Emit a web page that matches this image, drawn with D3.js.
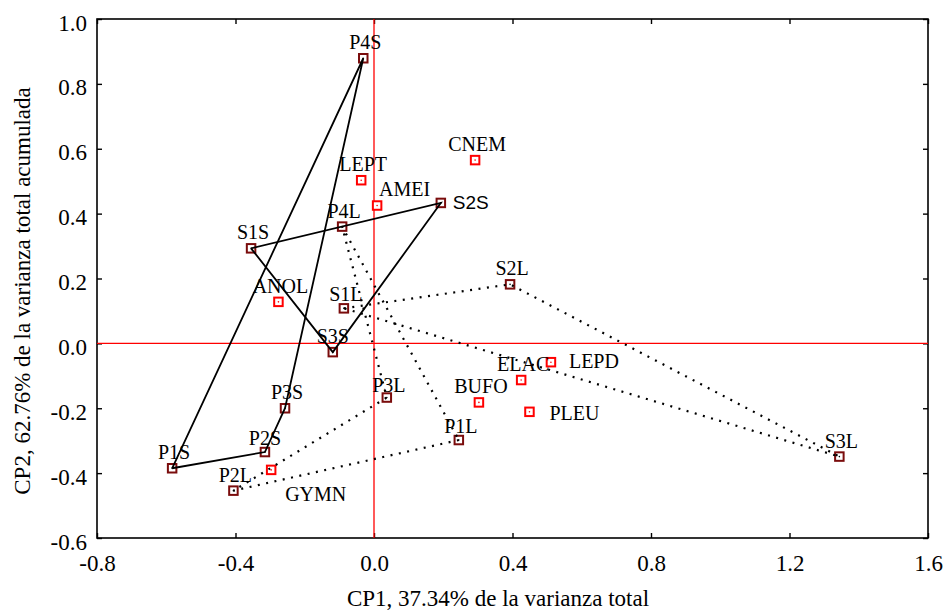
<!DOCTYPE html>
<html>
<head>
<meta charset="utf-8">
<script src="https://cdn.jsdelivr.net/npm/d3@7"></script>
<style>
  body { margin: 0; background: #fff; }
  svg text { font-family: "Liberation Serif", "Times New Roman", serif; fill: #000; }
</style>
</head>
<body>
<script>
// sites (season S / L), CP1 and CP2 scores
var siteNames = ["P1S", "P2S", "P3S", "P4S", "S1S", "S2S", "S3S",
                 "P1L", "P2L", "P3L", "P4L", "S1L", "S2L", "S3L"];
var siteX = [-0.583, -0.315, -0.257, -0.031, -0.355, 0.193, -0.119,
              0.245, -0.406, 0.037, -0.092, -0.087, 0.393, 1.344];
var siteY = [-0.385, -0.335, -0.200, 0.879, 0.293, 0.433, -0.027,
             -0.298, -0.454, -0.167, 0.360, 0.108, 0.182, -0.349];

// species
var sppNames = ["CNEM", "LEPT", "AMEI", "ANOL", "GYMN", "ELAC", "LEPD", "BUFO", "PLEU"];
var sppX = [0.292, -0.037, 0.009, -0.276, -0.297, 0.425, 0.511, 0.303, 0.449];
var sppY = [0.565, 0.503, 0.425, 0.128, -0.390, -0.113, -0.058, -0.182, -0.211];

// polygons joining the sites
var solidGroups = [["P1S", "P2S", "P3S", "P4S", "P1S"], ["S1S", "S2S", "S3S", "S1S"]];
var dottedGroups = [["P1L", "P2L", "P3L", "P4L", "P1L"], ["S1L", "S2L", "S3L", "S1L"]];

var xTicks = [-0.8, -0.4, 0.0, 0.4, 0.8, 1.2, 1.6];
var yTicks = [-0.6, -0.4, -0.2, 0.0, 0.2, 0.4, 0.6, 0.8, 1.0];

var xTitle = "CP1, 37.34% de la varianza total";
var yTitle = "CP2, 62.76% de la varianza total acumulada";

// label placement that differs from "centred above the point"
var labelPlace = {
  AMEI: {anchor: "start", dx: 2, dy: -10},
  S2S: {anchor: "start", dx: 12, dy: 6, sans: true},
  GYMN: {anchor: "start", dx: 14, dy: 31},
  LEPD: {anchor: "start", dx: 18, dy: 6},
  PLEU: {anchor: "start", dx: 20, dy: 8},
  S1L: {dy: -7}, P3L: {dy: -6}, P1L: {dy: -7}, P2S: {dx: 0, dy: -7},
  S3S: {dx: 0}
};

var W = 945, H = 612;
var padL = 97, padR = 928, padT = 19, padB = 538;

var x = d3.scaleLinear().domain([-0.8, 1.6]).range([padL, padR]);
var y = d3.scaleLinear().domain([-0.6, 1.0]).range([padB, padT]);

var svg = d3.select("body").append("svg").attr("width", W).attr("height", H);

var fmt = function(d) { return d.toFixed(1); };

// axes, ticks pointing inwards
var gx = svg.append("g").attr("transform", "translate(0," + padB + ")")
  .call(d3.axisBottom(x).tickValues(xTicks).tickFormat(fmt).tickSize(-5).tickPadding(17));
var gy = svg.append("g").attr("transform", "translate(" + padL + ",0)")
  .call(d3.axisLeft(y).tickValues(yTicks).tickFormat(fmt).tickSize(-5).tickPadding(10));
svg.append("g").attr("transform", "translate(0," + padT + ")")
  .call(d3.axisTop(x).tickValues(xTicks).tickFormat("").tickSize(-5));
svg.append("g").attr("transform", "translate(" + padR + ",0)")
  .call(d3.axisRight(y).tickValues(yTicks).tickFormat("").tickSize(-5));

svg.selectAll(".domain").remove();
svg.selectAll(".tick line").attr("stroke", "#000").attr("stroke-width", 1.4);
svg.selectAll(".tick text").style("font-family", '"Liberation Serif", serif').attr("font-size", 23);
gy.selectAll(".tick text").attr("dy", "0.48em");

svg.append("rect")
  .attr("x", padL).attr("y", padT)
  .attr("width", padR - padL).attr("height", padB - padT)
  .attr("fill", "none").attr("stroke", "#000").attr("stroke-width", 1.6);

// red zero lines
svg.append("line")
  .attr("x1", x(0)).attr("x2", x(0)).attr("y1", padT).attr("y2", padB)
  .attr("stroke", "#ff0000").attr("stroke-width", 1.3);
svg.append("line")
  .attr("x1", padL).attr("x2", padR).attr("y1", y(0)).attr("y2", y(0))
  .attr("stroke", "#ff0000").attr("stroke-width", 1.3);

// titles
svg.append("text").attr("x", 498).attr("y", 606)
  .attr("text-anchor", "middle").attr("font-size", 23).text(xTitle);
svg.append("text").attr("transform", "translate(30,291) rotate(-90)")
  .attr("text-anchor", "middle").attr("font-size", 23).text(yTitle);

var sites = siteNames.map(function(n, i) { return {name: n, x: siteX[i], y: siteY[i], kind: "site"}; });
var spp = sppNames.map(function(n, i) { return {name: n, x: sppX[i], y: sppY[i], kind: "spp"}; });
var byName = {};
sites.forEach(function(d) { byName[d.name] = d; });

var line = d3.line().x(function(d) { return x(d.x); }).y(function(d) { return y(d.y); });

// markers
var all = sites.concat(spp);
var S = 8.5;
svg.selectAll("rect.mk").data(all).enter().append("rect")
  .attr("class", "mk")
  .attr("x", function(d) { return x(d.x) - S / 2; })
  .attr("y", function(d) { return y(d.y) - S / 2; })
  .attr("width", S).attr("height", S)
  .attr("fill", "#fff")
  .attr("stroke", function(d) { return d.kind == "site" ? "#7a0c0c" : "#ff0000"; })
  .attr("stroke-width", 2);
svg.selectAll("circle.dot").data(all).enter().append("circle")
  .attr("class", "dot")
  .attr("cx", function(d) { return x(d.x); })
  .attr("cy", function(d) { return y(d.y); })
  .attr("r", 0.8)
  .attr("fill", function(d) { return d.kind == "site" ? "#000" : "#ff0000"; });

// connecting lines
solidGroups.forEach(function(g) {
  svg.append("path").datum(g.map(function(n) { return byName[n]; }))
    .attr("d", line).attr("fill", "none")
    .attr("stroke", "#000").attr("stroke-width", 1.8);
});
dottedGroups.forEach(function(g) {
  svg.append("path").datum(g.map(function(n) { return byName[n]; }))
    .attr("d", line).attr("fill", "none")
    .attr("stroke", "#000").attr("stroke-width", 2.2)
    .attr("stroke-dasharray", "2,6.5");
});

// labels
svg.selectAll("text.lab").data(all).enter().append("text")
  .attr("class", "lab")
  .each(function(d) {
    var p = labelPlace[d.name] || {};
    var dx = p.dx != null ? p.dx : 2;
    var dy = p.dy != null ? p.dy : -9;
    d3.select(this)
      .attr("x", x(d.x) + dx)
      .attr("y", y(d.y) + dy)
      .attr("text-anchor", p.anchor || "middle")
      .attr("font-size", p.sans ? 19 : 20)
      .style("font-family", p.sans ? '"Liberation Sans", Arial, sans-serif' : null);
  })
  .text(function(d) { return d.name; });
</script>
</body>
</html>
